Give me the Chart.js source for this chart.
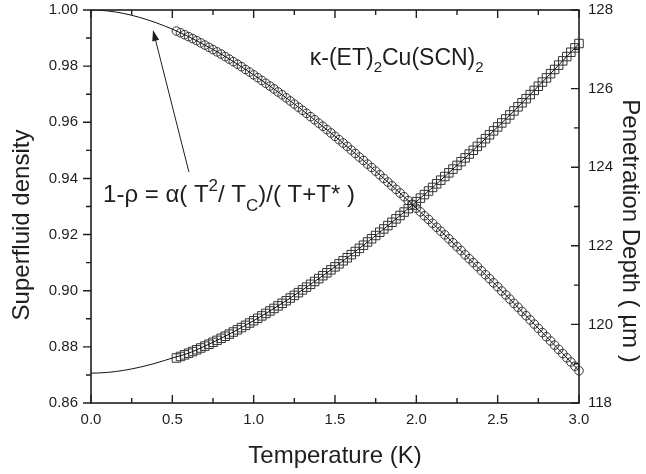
<!DOCTYPE html>
<html>
<head>
<meta charset="utf-8">
<script src="https://cdn.jsdelivr.net/npm/chart.js@4.4.0/dist/chart.umd.min.js"></script>
<style>
html, body { margin: 0; padding: 0; background: #fff; }
</style>
</head>
<body>
<canvas id="chart" width="646" height="474"></canvas>
<script>
// measured points (temperature in K)
const temps = [
    0.525, 0.55, 0.575, 0.6, 0.625, 0.65, 0.675, 0.7, 0.725, 0.75,
    0.775, 0.8, 0.825, 0.85, 0.875, 0.9, 0.925, 0.95, 0.975, 1.0,
    1.025, 1.05, 1.075, 1.1, 1.125, 1.15, 1.175, 1.2, 1.225, 1.25,
    1.275, 1.3, 1.325, 1.35, 1.375, 1.4, 1.425, 1.45, 1.475, 1.5,
    1.525, 1.55, 1.575, 1.6, 1.625, 1.65, 1.675, 1.7, 1.725, 1.75,
    1.775, 1.8, 1.825, 1.85, 1.875, 1.9, 1.925, 1.95, 1.975, 2.0,
    2.025, 2.05, 2.075, 2.1, 2.125, 2.15, 2.175, 2.2, 2.225, 2.25,
    2.275, 2.3, 2.325, 2.35, 2.375, 2.4, 2.425, 2.45, 2.475, 2.5,
    2.525, 2.55, 2.575, 2.6, 2.625, 2.65, 2.675, 2.7, 2.725, 2.75,
    2.775, 2.8, 2.825, 2.85, 2.875, 2.9, 2.925, 2.95, 2.975, 3.0
];
// superfluid density (circles, left axis)
const rhoData = [
    0.9925, 0.9919, 0.9912, 0.9905, 0.9898, 0.9891, 0.9883, 0.9875, 0.9867, 0.9859,
    0.9851, 0.9843, 0.9834, 0.9825, 0.9816, 0.9807, 0.9798, 0.9788, 0.9779, 0.9769,
    0.9759, 0.9749, 0.9739, 0.9729, 0.9719, 0.9708, 0.9698, 0.9687, 0.9676, 0.9665,
    0.9654, 0.9643, 0.9632, 0.9620, 0.9609, 0.9597, 0.9586, 0.9574, 0.9562, 0.9550,
    0.9538, 0.9526, 0.9514, 0.9501, 0.9489, 0.9476, 0.9464, 0.9451, 0.9439, 0.9426,
    0.9413, 0.9400, 0.9387, 0.9374, 0.9361, 0.9348, 0.9335, 0.9321, 0.9308, 0.9294,
    0.9281, 0.9267, 0.9254, 0.9240, 0.9226, 0.9212, 0.9199, 0.9185, 0.9171, 0.9157,
    0.9143, 0.9128, 0.9114, 0.9100, 0.9086, 0.9071, 0.9057, 0.9043, 0.9028, 0.9014,
    0.8999, 0.8985, 0.8970, 0.8955, 0.8941, 0.8926, 0.8911, 0.8896, 0.8881, 0.8866,
    0.8851, 0.8836, 0.8821, 0.8806, 0.8791, 0.8776, 0.8761, 0.8746, 0.8731, 0.8715
];
// penetration depth in um (squares, right axis)
const lambdaData = [
    119.145, 119.184, 119.225, 119.267, 119.310, 119.354, 119.400, 119.447, 119.495, 119.544,
    119.594, 119.646, 119.698, 119.752, 119.806, 119.862, 119.919, 119.976, 120.035, 120.094,
    120.155, 120.216, 120.279, 120.342, 120.406, 120.471, 120.537, 120.603, 120.671, 120.739,
    120.808, 120.878, 120.948, 121.020, 121.092, 121.165, 121.239, 121.313, 121.388, 121.464,
    121.541, 121.618, 121.696, 121.775, 121.855, 121.935, 122.015, 122.097, 122.179, 122.262,
    122.345, 122.429, 122.514, 122.599, 122.685, 122.771, 122.859, 122.946, 123.035, 123.124,
    123.213, 123.303, 123.394, 123.485, 123.577, 123.670, 123.763, 123.857, 123.951, 124.046,
    124.141, 124.237, 124.334, 124.431, 124.529, 124.627, 124.726, 124.825, 124.925, 125.025,
    125.126, 125.228, 125.330, 125.432, 125.536, 125.639, 125.743, 125.848, 125.954, 126.060,
    126.166, 126.273, 126.380, 126.488, 126.597, 126.706, 126.815, 126.925, 127.036, 127.147
];
// fit curves
const fitTemps = [0, 0.05, 0.1, 0.15, 0.2, 0.25, 0.3, 0.35, 0.4, 0.45, 0.5,
    0.6, 0.7, 0.8, 0.9, 1.0, 1.1, 1.2, 1.3, 1.4, 1.5, 1.6, 1.7, 1.8, 1.9, 2.0,
    2.1, 2.2, 2.3, 2.4, 2.5, 2.6, 2.7, 2.8, 2.9, 3.0];
const fitRho = [1.0, 0.99992, 0.99968, 0.99930, 0.99877, 0.99812, 0.99735, 0.99646, 0.99547, 0.99437, 0.99318,
    0.9905, 0.9875, 0.9843, 0.9807, 0.9769, 0.9729, 0.9687, 0.9643, 0.9597, 0.9550, 0.9501, 0.9451, 0.9400, 0.9348, 0.9294,
    0.9240, 0.9185, 0.9128, 0.9071, 0.9014, 0.8955, 0.8896, 0.8836, 0.8776, 0.8715];
const fitLambda = [118.760, 118.765, 118.778, 118.800, 118.830, 118.867, 118.911, 118.961, 119.017, 119.079, 119.145,
    119.267, 119.447, 119.646, 119.862, 120.094, 120.342, 120.603, 120.878, 121.165, 121.464, 121.775, 122.097, 122.429, 122.771, 123.124,
    123.485, 123.857, 124.237, 124.627, 125.025, 125.432, 125.848, 126.273, 126.706, 127.147];

const xTicks = [0, 0.5, 1.0, 1.5, 2.0, 2.5, 3.0];
const xMinor = [0.25, 0.75, 1.25, 1.75, 2.25, 2.75];
const rhoTicks = [0.86, 0.88, 0.90, 0.92, 0.94, 0.96, 0.98, 1.00];
const rhoMinor = [0.87, 0.89, 0.91, 0.93, 0.95, 0.97, 0.99];
const lambdaTicks = [118, 120, 122, 124, 126, 128];
const lambdaMinor = [119, 121, 123, 125, 127];

const FONT = "'Liberation Sans', Arial, Helvetica, sans-serif";
const INK = '#1e1e1e';

function pairs(xs, ys) {
    return xs.map((x, i) => ({ x: x, y: ys[i] }));
}

//draws text pieces with super/subscripts, shift < 0 is up
function drawRich(ctx, parts, x, y) {
    ctx.textAlign = 'left';
    ctx.textBaseline = 'alphabetic';
    parts.forEach(p => {
        ctx.font = p.size + 'px ' + FONT;
        ctx.fillText(p.t, x, y + (p.shift || 0));
        x += ctx.measureText(p.t).width;
    });
}

const framePlugin = {
    id: 'frame',
    afterDraw(chart) {
        const ctx = chart.ctx;
        const a = chart.chartArea;
        const sx = chart.scales.x, sy = chart.scales.y, sy2 = chart.scales.y2;
        ctx.save();

        // box
        ctx.strokeStyle = INK;
        ctx.lineWidth = 1.6;
        ctx.strokeRect(a.left, a.top, a.right - a.left, a.bottom - a.top);

        // ticks: left outward, others inward
        ctx.lineWidth = 1.4;
        ctx.beginPath();
        function xt(v, len) {
            const px = sx.getPixelForValue(v);
            ctx.moveTo(px, a.bottom); ctx.lineTo(px, a.bottom - len);
            ctx.moveTo(px, a.top); ctx.lineTo(px, a.top + len);
        }
        xTicks.forEach(v => xt(v, 8));
        xMinor.forEach(v => xt(v, 5));
        rhoTicks.forEach(v => { const py = sy.getPixelForValue(v); ctx.moveTo(a.left, py); ctx.lineTo(a.left - 8, py); });
        rhoMinor.forEach(v => { const py = sy.getPixelForValue(v); ctx.moveTo(a.left, py); ctx.lineTo(a.left - 5, py); });
        lambdaTicks.forEach(v => { const py = sy2.getPixelForValue(v); ctx.moveTo(a.right, py); ctx.lineTo(a.right - 8, py); });
        lambdaMinor.forEach(v => { const py = sy2.getPixelForValue(v); ctx.moveTo(a.right, py); ctx.lineTo(a.right - 5, py); });
        ctx.stroke();

        // tick labels
        ctx.fillStyle = INK;
        ctx.font = '15px ' + FONT;
        ctx.textAlign = 'center';
        ctx.textBaseline = 'alphabetic';
        xTicks.forEach(v => ctx.fillText(v.toFixed(1), sx.getPixelForValue(v), a.bottom + 21));
        ctx.textAlign = 'right';
        ctx.textBaseline = 'middle';
        rhoTicks.forEach(v => ctx.fillText(v.toFixed(2), a.left - 13, sy.getPixelForValue(v)));
        ctx.textAlign = 'left';
        lambdaTicks.forEach(v => ctx.fillText(String(v), a.right + 9, sy2.getPixelForValue(v)));

        // axis titles
        ctx.font = '24px ' + FONT;
        ctx.textAlign = 'center';
        ctx.textBaseline = 'alphabetic';
        ctx.fillText('Temperature (K)', (a.left + a.right) / 2, a.bottom + 60);

        ctx.save();
        ctx.translate(29, 225);
        ctx.rotate(-Math.PI / 2);
        ctx.fillText('Superfluid density', 0, 0);
        ctx.restore();

        ctx.save();
        ctx.translate(623, 231);
        ctx.rotate(Math.PI / 2);
        ctx.fillText('Penetration Depth ( \u00b5m )', 0, 0);
        ctx.restore();

        // compound name
        drawRich(ctx, [
            { t: '\u03ba-(ET)', size: 23 },
            { t: '2', size: 15, shift: 7 },
            { t: 'Cu(SCN)', size: 23 },
            { t: '2', size: 15, shift: 7 }
        ], sx.getPixelForValue(1.345), sy.getPixelForValue(0.9805));

        // fit formula
        drawRich(ctx, [
            { t: '1-\u03c1 = \u03b1( T', size: 24 },
            { t: '2', size: 17, shift: -11 },
            { t: '/ T', size: 24 },
            { t: 'C', size: 17, shift: 9 },
            { t: ')/( T+T* )', size: 24 }
        ], sx.getPixelForValue(0.074), sy.getPixelForValue(0.9316));

        // arrow to the fit curve
        const x0 = sx.getPixelForValue(0.602), y0 = sy.getPixelForValue(0.9423);
        const x1 = sx.getPixelForValue(0.381), y1 = sy.getPixelForValue(0.9929);
        const ang = Math.atan2(y1 - y0, x1 - x0);
        ctx.lineWidth = 1;
        ctx.beginPath();
        ctx.moveTo(x0, y0);
        ctx.lineTo(x1 - 8 * Math.cos(ang), y1 - 8 * Math.sin(ang));
        ctx.stroke();
        ctx.beginPath();
        ctx.moveTo(x1, y1);
        ctx.lineTo(x1 - 11 * Math.cos(ang) + 3.5 * Math.sin(ang), y1 - 11 * Math.sin(ang) - 3.5 * Math.cos(ang));
        ctx.lineTo(x1 - 11 * Math.cos(ang) - 3.5 * Math.sin(ang), y1 - 11 * Math.sin(ang) + 3.5 * Math.cos(ang));
        ctx.closePath();
        ctx.fill();

        ctx.restore();
    }
};

new Chart(document.getElementById('chart'), {
    type: 'scatter',
    data: {
        datasets: [{
            label: 'fit rho',
            data: pairs(fitTemps, fitRho),
            yAxisID: 'y',
            showLine: true,
            cubicInterpolationMode: 'monotone',
            borderColor: '#111',
            borderWidth: 1,
            pointRadius: 0
        }, {
            label: 'fit lambda',
            data: pairs(fitTemps, fitLambda),
            yAxisID: 'y2',
            showLine: true,
            cubicInterpolationMode: 'monotone',
            borderColor: '#111',
            borderWidth: 1,
            pointRadius: 0
        }, {
            label: 'Superfluid density',
            data: pairs(temps, rhoData),
            yAxisID: 'y',
            pointStyle: 'circle',
            pointRadius: 4.3,
            borderColor: '#333',
            borderWidth: 1,
            backgroundColor: 'rgba(0,0,0,0)',
            clip: false
        }, {
            label: 'Penetration depth',
            data: pairs(temps, lambdaData),
            yAxisID: 'y2',
            pointStyle: 'rect',
            pointRadius: 6,
            borderColor: '#333',
            borderWidth: 1,
            backgroundColor: 'rgba(0,0,0,0)',
            clip: false
        }]
    },
    options: {
        responsive: false,
        animation: false,
        devicePixelRatio: 1,
        layout: { padding: { left: 91, right: 67, top: 10, bottom: 71 } },
        plugins: { legend: { display: false }, tooltip: { enabled: false } },
        scales: {
            x: { type: 'linear', min: 0, max: 3, display: false },
            y: { type: 'linear', position: 'left', min: 0.86, max: 1.0, display: false },
            y2: { type: 'linear', position: 'right', min: 118, max: 128, display: false }
        }
    },
    plugins: [framePlugin]
});
</script>
</body>
</html>
